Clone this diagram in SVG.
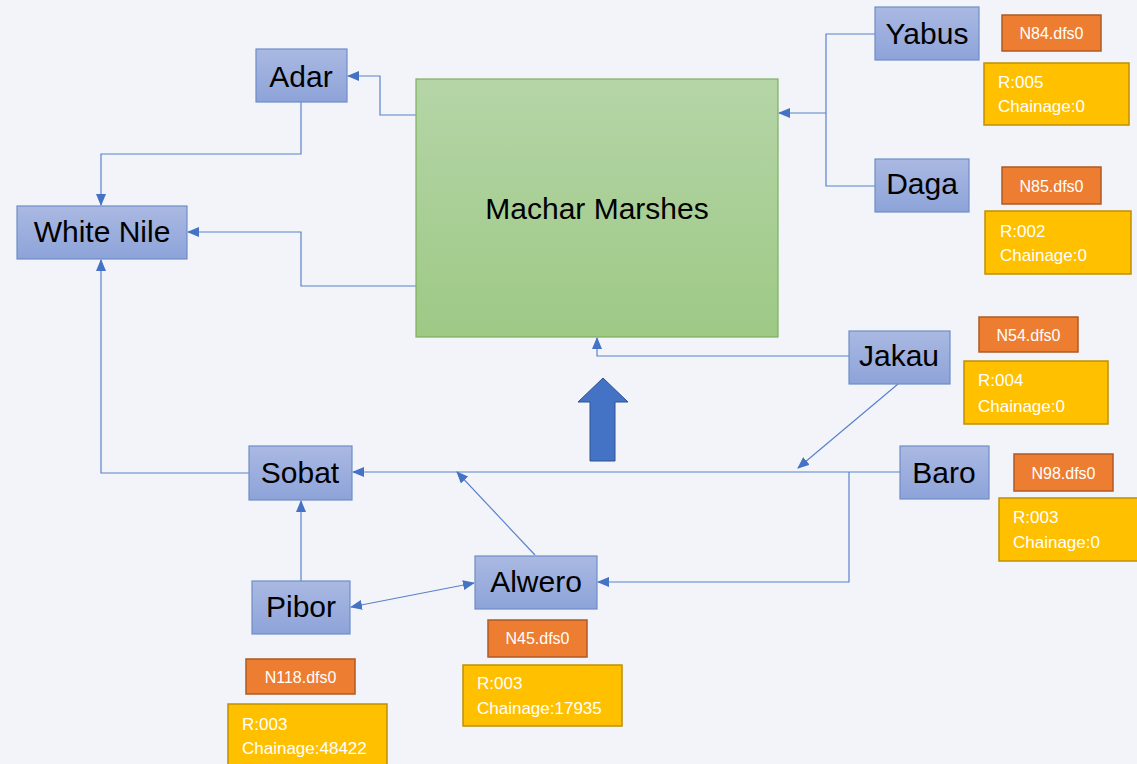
<svg xmlns="http://www.w3.org/2000/svg" width="1137" height="764" viewBox="0 0 1137 764">
<defs>
<linearGradient id="gBlue" x1="0" y1="0" x2="0" y2="1"><stop offset="0" stop-color="#AAB9E2"/><stop offset="1" stop-color="#8DA3D9"/></linearGradient>
<linearGradient id="gGreen" x1="0" y1="0" x2="0" y2="1"><stop offset="0" stop-color="#B5D5A7"/><stop offset="1" stop-color="#9DC985"/></linearGradient>
<marker id="ah" markerWidth="12" markerHeight="10" refX="11" refY="5" orient="auto" markerUnits="userSpaceOnUse"><path d="M0,0 L12,5 L0,10 Z" fill="#4472C4"/></marker>
<marker id="ahs" markerWidth="12" markerHeight="10" refX="1" refY="5" orient="auto" markerUnits="userSpaceOnUse"><path d="M12,0 L0,5 L12,10 Z" fill="#4472C4"/></marker>
<style>
.node{fill:url(#gBlue);stroke:#6E8DC6;stroke-width:1.2}
.lbl{font-family:"Liberation Sans",Arial,sans-serif;font-size:30px;fill:#000;text-anchor:middle}
.or{fill:#ED7D31;stroke:#B05A22;stroke-width:1.5}
.ye{fill:#FFC000;stroke:#BF9000;stroke-width:1.5}
.ot{font-family:"Liberation Sans",Arial,sans-serif;font-size:16px;fill:#FFF;text-anchor:middle}
.yt{font-family:"Liberation Sans",Arial,sans-serif;font-size:17px;fill:#FFF}
.c{fill:none;stroke:#5A82CB;stroke-width:1.2}
</style>
</defs>
<rect width="1137" height="764" fill="#F3F4F9"/>

<g id="connectors">
<polyline class="c" points="301,102 301,154 101,154 101,205" marker-end="url(#ah)"/>
<polyline class="c" points="416,115 380,115 380,76 348,76" marker-end="url(#ah)"/>
<polyline class="c" points="416,286 301,286 301,232 188,232" marker-end="url(#ah)"/>
<polyline class="c" points="875,34 826,34 826,186 875,186"/>
<line class="c" x1="826" y1="113" x2="779" y2="113" marker-end="url(#ah)"/>
<polyline class="c" points="849,356 597,356 597,338" marker-end="url(#ah)"/>
<line class="c" x1="898" y1="384" x2="798" y2="468" marker-end="url(#ah)"/>
<line class="c" x1="900" y1="472" x2="353" y2="472" marker-end="url(#ah)"/>
<polyline class="c" points="849,472 849,582 598,582" marker-end="url(#ah)"/>
<line class="c" x1="535" y1="555" x2="457" y2="472" marker-end="url(#ah)"/>
<line class="c" x1="301" y1="581" x2="301" y2="501" marker-end="url(#ah)"/>
<line class="c" x1="351" y1="607" x2="474" y2="583" marker-start="url(#ahs)" marker-end="url(#ah)"/>
<polyline class="c" points="249,473 101,473 101,260" marker-end="url(#ah)"/>
</g>

<g id="machar">
<rect x="416" y="79" width="362" height="258" fill="url(#gGreen)" stroke="#7EAF5F" stroke-width="1.2"/>
<text class="lbl" x="597" y="219">Machar Marshes</text>
</g>
<g id="adar"><rect class="node" x="256" y="49" width="91" height="53"/><text class="lbl" x="301" y="87">Adar</text></g>
<g id="whitenile"><rect class="node" x="17" y="206" width="170" height="53"/><text class="lbl" x="102" y="242">White Nile</text></g>
<g id="yabus"><rect class="node" x="875" y="7" width="104" height="53"/><text class="lbl" x="927" y="44">Yabus</text></g>
<g id="daga"><rect class="node" x="875" y="159" width="94" height="53"/><text class="lbl" x="922" y="194">Daga</text></g>
<g id="jakau"><rect class="node" x="849" y="331" width="101" height="53"/><text class="lbl" x="899" y="366">Jakau</text></g>
<g id="baro"><rect class="node" x="900" y="446" width="89" height="53"/><text class="lbl" x="944" y="483">Baro</text></g>
<g id="sobat"><rect class="node" x="249" y="446" width="103" height="54"/><text class="lbl" x="300" y="483">Sobat</text></g>
<g id="pibor"><rect class="node" x="252" y="581" width="98" height="53"/><text class="lbl" x="301" y="617">Pibor</text></g>
<g id="alwero"><rect class="node" x="475" y="556" width="122" height="53"/><text class="lbl" x="536" y="592">Alwero</text></g>

<g id="bigarrow">
<path d="M603,378 L628,402 L615,402 L615,461 L590,461 L590,402 L578,402 Z" fill="#4472C4" stroke="#2F528F" stroke-width="1"/>
</g>

<g id="n84"><rect class="or" x="1002" y="15" width="99" height="36"/><text class="ot" x="1051.5" y="39">N84.dfs0</text></g>
<g id="r005"><rect class="ye" x="984" y="63" width="145" height="62"/><text class="yt" x="998" y="88">R:005</text><text class="yt" x="998" y="112">Chainage:0</text></g>
<g id="n85"><rect class="or" x="1002" y="167" width="99" height="37"/><text class="ot" x="1051.5" y="192">N85.dfs0</text></g>
<g id="r002"><rect class="ye" x="985" y="211" width="146" height="63"/><text class="yt" x="1000" y="237">R:002</text><text class="yt" x="1000" y="261">Chainage:0</text></g>
<g id="n54"><rect class="or" x="979" y="317" width="99" height="35"/><text class="ot" x="1028.5" y="341">N54.dfs0</text></g>
<g id="r004"><rect class="ye" x="964" y="361" width="144" height="63"/><text class="yt" x="978" y="386">R:004</text><text class="yt" x="978" y="412">Chainage:0</text></g>
<g id="n98"><rect class="or" x="1014" y="454" width="99" height="37"/><text class="ot" x="1063.5" y="479">N98.dfs0</text></g>
<g id="r003b"><rect class="ye" x="999" y="498" width="145" height="63"/><text class="yt" x="1013" y="523">R:003</text><text class="yt" x="1013" y="548">Chainage:0</text></g>
<g id="n45"><rect class="or" x="488" y="620" width="99" height="37"/><text class="ot" x="537.5" y="644">N45.dfs0</text></g>
<g id="r003a"><rect class="ye" x="463" y="665" width="159" height="61"/><text class="yt" x="477" y="689">R:003</text><text class="yt" x="477" y="714">Chainage:17935</text></g>
<g id="n118"><rect class="or" x="246" y="659" width="109" height="35"/><text class="ot" x="300.5" y="683">N118.dfs0</text></g>
<g id="r003p"><rect class="ye" x="228" y="704" width="159" height="70"/><text class="yt" x="242" y="730">R:003</text><text class="yt" x="242" y="754">Chainage:48422</text></g>
</svg>
